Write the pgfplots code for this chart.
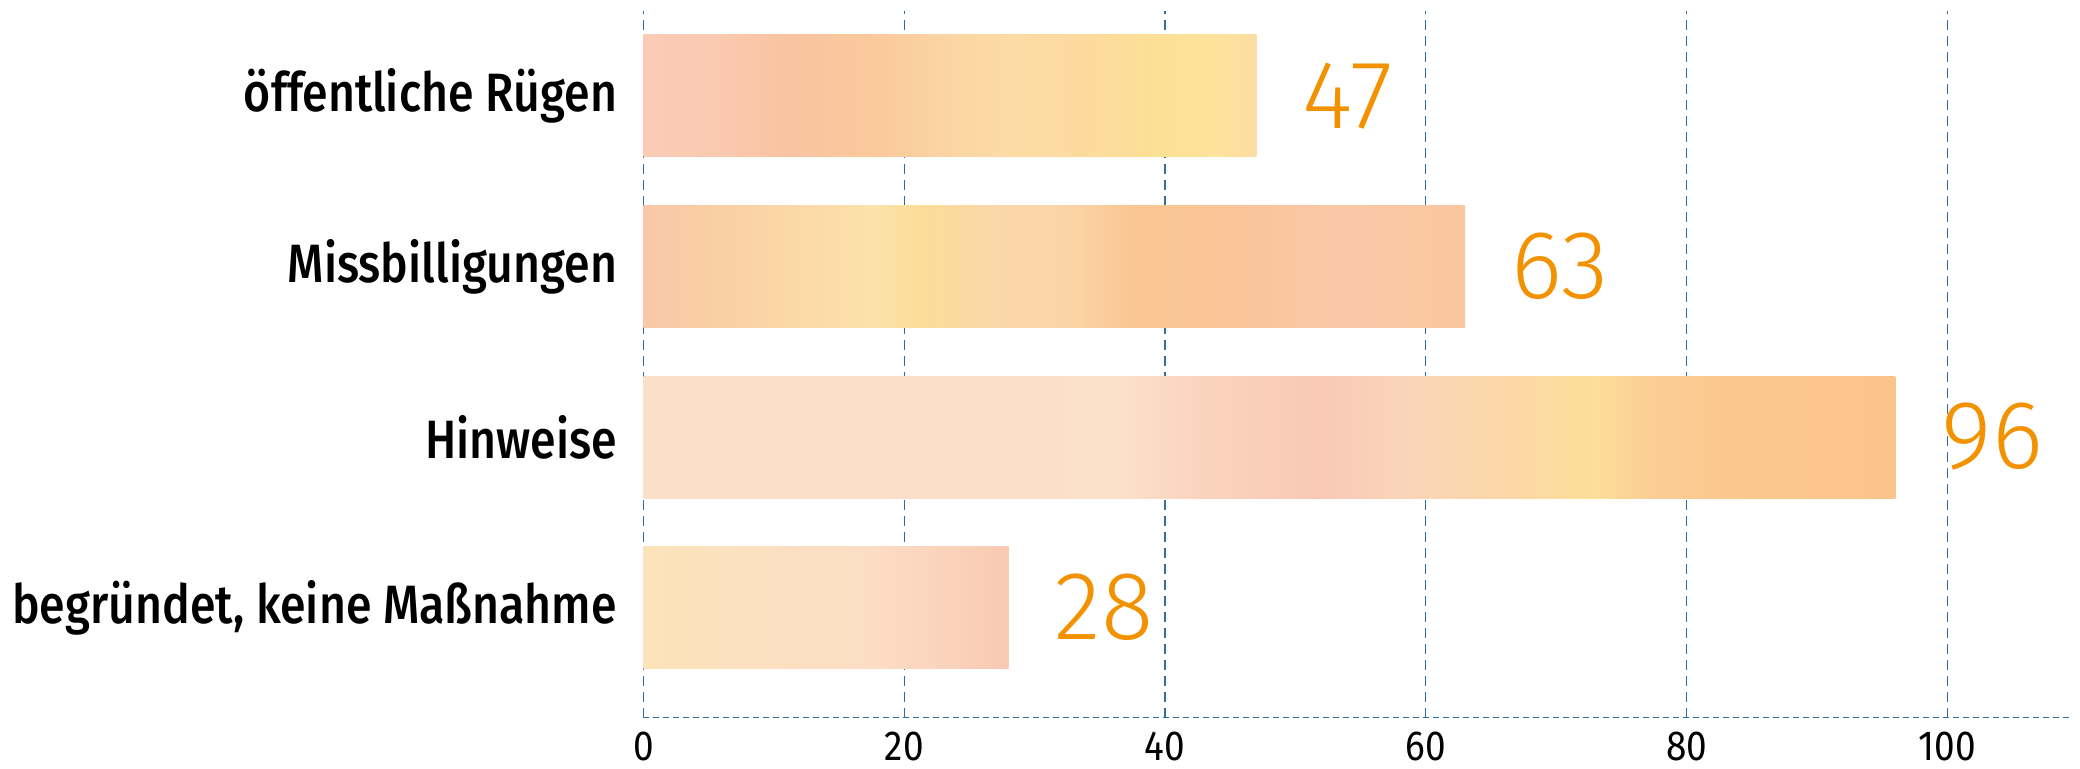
\documentclass[border=0pt]{standalone}
\usepackage{pgfplots}
\pgfplotsset{compat=1.18}
\usepackage{fontspec}
\setmainfont{Fira Sans}[FakeStretch=0.88]
\newfontfamily\medfont{Fira Sans Medium}[FakeStretch=0.86]
\newfontfamily\lightfont{Fira Sans Light}
\definecolor{gridblue}{HTML}{2F6E9E}
\definecolor{valorange}{HTML}{F39200}
% bar textures approximated by horizontal colour shadings (path bbox maps to 25bp..75bp)
\pgfdeclarehorizontalshading{barA}{100bp}{%
 color(0bp)=(rgb,255:red,250;green,203;blue,182);
 color(25bp)=(rgb,255:red,250;green,203;blue,182);
 color(31bp)=(rgb,255:red,250;green,201;blue,176);
 color(37bp)=(rgb,255:red,249;green,195;blue,160);
 color(44bp)=(rgb,255:red,250;green,201;blue,156);
 color(50bp)=(rgb,255:red,251;green,213;blue,163);
 color(55bp)=(rgb,255:red,252;green,219;blue,165);
 color(61bp)=(rgb,255:red,252;green,218;blue,158);
 color(67bp)=(rgb,255:red,252;green,224;blue,150);
 color(72bp)=(rgb,255:red,252;green,226;blue,156);
 color(75bp)=(rgb,255:red,252;green,221;blue,165);
 color(100bp)=(rgb,255:red,252;green,221;blue,165)}
\pgfdeclarehorizontalshading{barB}{100bp}{%
 color(0bp)=(rgb,255:red,249;green,199;blue,170);
 color(25bp)=(rgb,255:red,249;green,199;blue,170);
 color(30bp)=(rgb,255:red,250;green,208;blue,162);
 color(35bp)=(rgb,255:red,251;green,218;blue,168);
 color(39bp)=(rgb,255:red,252;green,226;blue,170);
 color(42bp)=(rgb,255:red,252;green,220;blue,152);
 color(46bp)=(rgb,255:red,251;green,216;blue,168);
 color(51bp)=(rgb,255:red,251;green,212;blue,166);
 color(55bp)=(rgb,255:red,250;green,197;blue,146);
 color(61bp)=(rgb,255:red,250;green,196;blue,152);
 color(67bp)=(rgb,255:red,250;green,200;blue,168);
 color(75bp)=(rgb,255:red,250;green,198;blue,160);
 color(100bp)=(rgb,255:red,250;green,198;blue,160)}
\pgfdeclarehorizontalshading{barC}{100bp}{%
 color(0bp)=(rgb,255:red,251;green,223;blue,200);
 color(25bp)=(rgb,255:red,251;green,223;blue,200);
 color(35bp)=(rgb,255:red,251;green,222;blue,200);
 color(44bp)=(rgb,255:red,251;green,224;blue,202);
 color(47bp)=(rgb,255:red,250;green,212;blue,190);
 color(52bp)=(rgb,255:red,249;green,201;blue,182);
 color(56bp)=(rgb,255:red,250;green,214;blue,184);
 color(60bp)=(rgb,255:red,252;green,216;blue,165);
 color(63bp)=(rgb,255:red,252;green,223;blue,152);
 color(65bp)=(rgb,255:red,251;green,207;blue,150);
 color(68bp)=(rgb,255:red,251;green,199;blue,143);
 color(75bp)=(rgb,255:red,251;green,196;blue,138);
 color(100bp)=(rgb,255:red,251;green,196;blue,138)}
\pgfdeclarehorizontalshading{barD}{100bp}{%
 color(0bp)=(rgb,255:red,252;green,227;blue,185);
 color(25bp)=(rgb,255:red,252;green,227;blue,185);
 color(40bp)=(rgb,255:red,252;green,224;blue,192);
 color(55bp)=(rgb,255:red,252;green,222;blue,196);
 color(63bp)=(rgb,255:red,251;green,214;blue,190);
 color(75bp)=(rgb,255:red,249;green,201;blue,178);
 color(100bp)=(rgb,255:red,249;green,201;blue,178)}
\begin{document}
\begin{tikzpicture}
\path[use as bounding box] (0,0) rectangle (1040pt,384pt);
\begin{axis}[
  at={(321.7pt,25.2pt)}, anchor=south west,
  scale only axis, width=714pt, height=353.5pt,
  xmin=0, xmax=109.5, ymin=-0.645, ymax=3.5,
  xtick={0,20,40,60,80,100},
  ytick={0,1,2,3},
  yticklabels={{begründet, keine Maßnahme}, Hinweise, Missbilligungen, öffentliche Rügen},
  axis lines*=left,
  y axis line style={draw=none},
  x axis line style={draw=gridblue, line width=0.65pt, dash pattern=on 3pt off 2pt},
  xmajorgrids,
  major grid style={draw=gridblue, line width=0.6pt, dash pattern=on 5pt off 3pt},
  major tick length=0pt,
  tick style={draw=none},
  /pgf/number format/assume math mode=true,
  xticklabel style={font=\fontsize{21}{22}\selectfont, anchor=north, inner sep=0pt, yshift=-7pt},
  yticklabel style={font=\medfont\fontsize{27}{28}\selectfont, anchor=east, inner sep=0pt, xshift=-13pt},
  point meta=x,
  nodes near coords,
  nodes near coords style={font=\lightfont\fontsize{48.5}{50}\selectfont, text=valorange, anchor=west, inner sep=0pt, xshift=23pt},
  every axis plot/.append style={xbar, bar shift=0pt, bar width=0.715, draw=none},
]
\addplot[shading=barA] coordinates {(47,3)};
\addplot[shading=barB] coordinates {(63,2)};
\addplot[shading=barC] coordinates {(96,1)};
\addplot[shading=barD] coordinates {(28,0)};
\end{axis}
\end{tikzpicture}
\end{document}
